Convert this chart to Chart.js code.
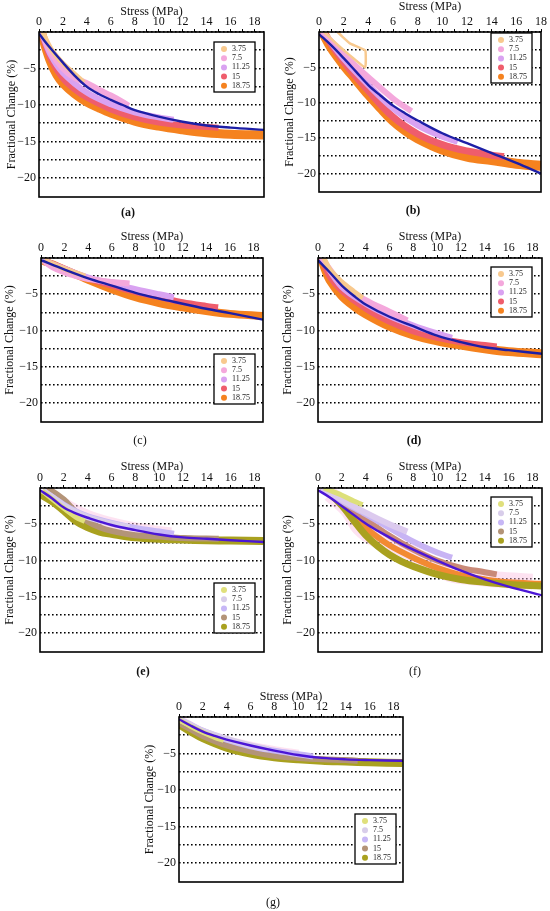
<!DOCTYPE html>
<html>
<head>
<meta charset="utf-8">
<script src="https://cdn.jsdelivr.net/npm/chart.js@4.4.0/dist/chart.umd.min.js"></script>
<style>
    html, body { margin: 0; padding: 0; background: #fff; }
    body { position: relative; width: 550px; height: 911px; overflow: hidden; font-family: 'Liberation Serif', 'Times New Roman', serif; }
    .painel { position: absolute; }
    .rotulo-painel { position: absolute; font-size: 12px; color: #111; transform: translate(-50%, -50%); white-space: nowrap; }
</style>
</head>
<body>
<script>
// ---- dados ----
const rotulosSerie = ['3.75', '7.5', '11.25', '15', '18.75'];
const marcasX = [0, 1, 2, 3, 4, 5, 6, 7, 8, 9, 10, 11, 12, 13, 14, 15, 16, 17, 18];
const marcasY = [-20, -17.5, -15, -12.5, -10, -7.5, -5, -2.5, 0];

// (a)
const aAjuste = [[0, -0.2], [0.5, -1.3], [1, -2.3], [2, -4.2], [3, -6.0], [4, -7.5], [5, -8.5], [6, -9.3], [7, -10.0], [8, -10.7], [10, -11.6], [12, -12.3], [14, -12.8], [16, -13.1], [18.8, -13.4]];
const a375 = [[0.3, 0], [1, -2.3], [2, -4.3], [3, -5.8], [3.75, -6.9]];
const a75 = [[0.2, 0], [1, -2.8], [2, -5.0], [3, -6.3], [4, -7.0], [5, -7.9], [6, -8.7], [7, -9.6], [7.5, -10.1]];
const a1125 = [[0.2, 0], [1, -3.2], [2, -5.6], [4, -8.3], [6, -9.9], [8, -11.0], [10, -11.7], [11.25, -12.0]];
const a15 = [[0.2, 0], [0.5, -1.6], [1, -3.8], [2, -6.4], [3, -7.9], [4, -9.0], [6, -10.6], [8, -11.7], [10, -12.4], [12, -12.8], [14, -13.0], [15, -13.1]];
const a1875 = [[0.2, 0], [0.5, -1.8], [1, -4.2], [1.5, -5.9], [2, -7.0], [3, -8.5], [4, -9.6], [5, -10.4], [6, -11.1], [8, -12.2], [10, -12.9], [12, -13.4], [14, -13.8], [16, -14.0], [18.75, -14.1]];

// (b)
const bAjuste = [[0, -0.3], [1, -1.9], [2, -3.7], [3, -5.6], [4, -7.5], [5, -9.0], [6, -10.4], [7, -11.5], [8, -12.5], [10, -14.3], [12, -15.7], [14, -17.1], [16, -18.5], [18, -20.0]];
const b375 = [[0.4, 0], [1.5, -1.8], [2.5, -3.3], [3.75, -5.0], [3.75, -2.6], [2.5, -1.6], [1.8, -0.5], [1.5, 0]];
const b75 = [[0.3, 0], [2, -3.2], [4, -6.4], [6, -9.4], [7.5, -11.2]];
const b1125 = [[0.3, 0], [2, -3.8], [4, -7.5], [6, -10.8], [8, -13.2], [10, -14.8], [11.25, -15.5]];
const b15 = [[0.3, 0], [2, -4.2], [4, -8.3], [6, -12.0], [8, -14.4], [10, -15.9], [12, -16.8], [14, -17.4], [15, -17.6]];
const b1875 = [[0.3, 0], [1, -2.2], [2, -4.6], [3, -6.7], [4, -8.8], [5, -10.7], [6, -12.5], [7, -13.9], [8, -15.0], [10, -16.6], [12, -17.6], [14, -18.1], [16, -18.6], [18, -18.9], [18.75, -19.0]];

// (c)
const cAjuste = [[0, -0.3], [2, -1.6], [4, -2.8], [6, -3.8], [8, -4.8], [10, -5.6], [12, -6.3], [14, -7.0], [16, -7.6], [18.8, -8.5]];
const c375 = [[0.3, -0.3], [2, -1.5], [3.75, -2.5]];
const c75 = [[0.3, -0.5], [1, -1.3], [2, -2.0], [3, -2.5], [4, -2.9], [6, -3.3], [7.5, -3.5]];
const c1125 = [[0.2, -0.3], [2, -1.5], [4, -2.7], [6, -3.5], [8, -4.3], [10, -5.0], [11.25, -5.4]];
const c15 = [[0.2, -0.3], [2, -1.5], [4, -2.8], [6, -3.8], [8, -4.7], [10, -5.4], [12, -6.1], [14, -6.6], [15, -6.8]];
const c1875 = [[0.2, -0.4], [1, -0.9], [2, -1.6], [4, -3.0], [6, -4.3], [8, -5.4], [10, -6.2], [12, -6.8], [14, -7.3], [16, -7.7], [18.75, -8.0]];

// (d)
const dAjuste = [[0, -0.3], [1, -2.0], [2, -3.8], [3, -5.2], [4, -6.4], [6, -8.1], [8, -9.4], [10, -10.7], [12, -11.6], [14, -12.3], [16, -12.7], [18.8, -13.2]];
const d375 = [[0.5, 0], [1, -1.6], [2, -3.3], [3, -4.6], [3.75, -5.5]];
const d75 = [[0.3, 0], [2, -3.6], [4, -5.8], [6, -7.4], [7.5, -8.6]];
const d1125 = [[0.3, 0], [2, -4.0], [4, -6.3], [6, -8.0], [8, -9.3], [10, -10.4], [11.25, -11.0]];
const d15 = [[0.3, 0], [1, -2.6], [2, -4.5], [4, -7.0], [6, -8.8], [8, -10.1], [10, -11.0], [12, -11.6], [14, -12.0], [15, -12.2]];
const d1875 = [[0.3, 0], [0.6, -1.5], [1, -3.0], [2, -5.2], [3, -6.6], [4, -7.7], [6, -9.4], [8, -10.6], [10, -11.4], [12, -12.0], [14, -12.5], [16, -12.9], [18.75, -13.2]];

// (e)
const eAjuste = [[0, -0.3], [1, -1.4], [2, -2.7], [3, -3.5], [4, -4.1], [6, -5.1], [8, -5.8], [10, -6.4], [12, -6.8], [14, -7.0], [16, -7.2], [18.8, -7.45]];
const e375 = [[0.2, -0.4], [1, -1.5], [2, -2.8], [3, -4.0], [3.75, -4.6]];
const e75 = [[0.2, -0.3], [1, -1.2], [2, -2.4], [3, -3.3], [4, -4.0], [6, -4.9], [7.5, -5.4]];
const e1125 = [[0.2, -0.3], [1, -1.2], [2, -2.3], [3, -3.2], [4, -3.9], [6, -4.8], [8, -5.5], [10, -6.0], [11.25, -6.3]];
const e15 = [[0.5, 0], [1, -0.4], [2, -1.6], [3, -3.3], [4, -4.6], [5, -5.4], [6, -5.9], [8, -6.5], [10, -6.7], [12, -6.9], [15, -7.0]];
const e1875 = [[0, -0.8], [1, -1.8], [2, -3.1], [3, -4.5], [4, -5.4], [5, -6.0], [6, -6.3], [8, -6.8], [10, -7.0], [12, -7.1], [14, -7.2], [16, -7.25], [18.75, -7.3]];
const eNevoa = [[0.5, -0.5], [2, -2.3], [4, -4.0], [6, -5.0], [8, -5.7], [10, -6.2], [11, -6.4]];

// (f)
const fAjuste = [[0, -0.3], [1, -1.3], [2, -2.5], [3, -3.7], [4, -4.9], [5, -5.9], [6, -6.8], [7, -7.7], [8, -8.5], [10, -10.0], [12, -11.4], [14, -12.6], [16, -13.6], [18.8, -14.8]];
const f375 = [[0.5, 0], [2, -1.0], [3, -1.8], [3.75, -2.3]];
const f75 = [[0.3, 0], [2, -1.6], [4, -3.4], [6, -5.0], [7.5, -6.0]];
const f1125 = [[0.3, 0], [2, -1.8], [4, -3.6], [6, -5.5], [8, -7.4], [10, -8.9], [11.25, -9.6]];
const f15 = [[0.3, 0], [2, -1.8], [4, -4.3], [6, -6.6], [8, -8.5], [10, -10.0], [12, -11.0], [14, -11.6], [15, -11.9]];
const f1875 = [[0.3, 0], [1, -0.8], [2, -2.4], [3, -4.5], [4, -6.5], [5, -8.0], [6, -9.2], [7, -10.1], [8, -10.8], [10, -11.9], [12, -12.6], [14, -13.0], [16, -13.3], [18.75, -13.5]];
const f1875Laranja = [[0.3, 0], [1, -0.7], [2, -2.1], [3, -3.9], [4, -5.5], [6, -7.9], [8, -9.6], [10, -11.0], [12, -12.0], [14, -12.6], [16, -13.0], [18.75, -13.2]];
const fNevoa = [[1, -0.8], [2.5, -3.0], [3.5, -5.5], [5, -7.2], [7, -8.3], [9, -10.0], [11, -11.8], [13, -12.3], [15, -12.6], [18, -12.9]];

// (g)
const gAjuste = [[0, -0.3], [1, -1.2], [2, -2.0], [3, -2.6], [4, -3.1], [6, -3.9], [8, -4.6], [10, -5.2], [12, -5.6], [14, -5.8], [16, -5.9], [18.8, -6.0]];
const g375 = [[0, -0.4], [1, -1.3], [2, -2.1], [3, -2.8], [3.75, -3.2]];
const g75 = [[0, -0.3], [1, -1.1], [2, -1.9], [4, -3.0], [6, -3.9], [7.5, -4.4]];
const g1125 = [[0, -0.3], [1, -1.1], [2, -1.9], [4, -3.1], [6, -4.0], [8, -4.6], [10, -5.1], [11.25, -5.4]];
const g15 = [[0, -0.8], [1, -1.7], [2, -2.6], [4, -3.9], [6, -4.7], [8, -5.3], [10, -5.6], [12, -5.8], [14, -5.9], [15, -6.0]];
const g1875 = [[0, -1.0], [1, -2.0], [2, -2.9], [4, -4.2], [6, -5.0], [8, -5.5], [10, -5.8], [12, -6.0], [14, -6.1], [16, -6.2], [18.75, -6.3]];
const gNevoa = [[0, -0.6], [2, -2.3], [4, -3.4], [6, -4.2], [8, -4.8], [10, -5.3]];

// ---- estilos ----
const fonte = "'Liberation Serif', 'Times New Roman', serif";
const corQuente = ['#f8c98e', '#f4a8dc', '#d9a2f1', '#ef5d6c', '#f5821f'];
const corFria = ['#e0e07c', '#d8cdea', '#c7b7f6', '#b39478', '#a9a11f'];
const corAjusteQuente = '#1d1fa6';
const corAjusteFria = '#4b16d6';
const nevoa = 'rgba(250, 190, 225, 0.45)';

const paineis = [
    { letra: 'a', pos: [0, 0, 275, 230], eixoY: 39, eixoX: 32, padR: 11, padB: 33, titX: 4.5, titY: 4.5, xMax: 18.8,
      leg: ['top', 10, 9], cap: [128, 212, 'bold'], cores: corQuente, corAjuste: corAjusteQuente, larguras: [5, 6, 6, 6, 9],
      series: [a375, a75, a1125, a15, a1875], ajuste: aAjuste, extras: [] },
    { letra: 'b', pos: [275, 0, 275, 230], eixoY: 44, eixoX: 32, padR: 9, padB: 38, titX: 0, titY: 7.5, xMax: 18,
      leg: ['top', 1, 9], cap: [413, 210, 'bold'], cores: corQuente, corAjuste: corAjusteQuente, larguras: [2.5, 6, 6, 7, 10],
      series: [b375, b75, b1125, b15, b1875], ajuste: bAjuste, extras: [], tensao: 0.1 },
    { letra: 'c', pos: [0, 230, 275, 230], eixoY: 41, eixoX: 28, padR: 12, padB: 38, titX: 0, titY: 2.8, xMax: 18.8,
      leg: ['bottom', 18, 8], cap: [140, 440, 'normal'], cores: corQuente, corAjuste: corAjusteQuente, larguras: [5, 6, 6, 6, 8],
      series: [c375, c75, c1125, c15, c1875], ajuste: cAjuste, extras: [] },
    { letra: 'd', pos: [275, 230, 275, 230], eixoY: 43, eixoX: 28, padR: 8, padB: 38, titX: 0, titY: 5.8, xMax: 18.8,
      leg: ['top', 9, 10], cap: [414, 440, 'bold'], cores: corQuente, corAjuste: corAjusteQuente, larguras: [5, 6, 6, 6, 9],
      series: [d375, d75, d1125, d15, d1875], ajuste: dAjuste, extras: [] },
    { letra: 'e', pos: [0, 460, 275, 230], eixoY: 40, eixoX: 28, padR: 11, padB: 38, titX: 0, titY: 2.8, xMax: 18.8,
      leg: ['bottom', 19, 9], cap: [143, 671, 'bold'], cores: corFria, corAjuste: corAjusteFria, larguras: [5, 6, 6, 6, 8],
      series: [e375, e75, e1125, e15, e1875], ajuste: eAjuste,
      extras: [{ pontos: eNevoa, cor: nevoa, larg: 14 }] },
    { letra: 'f', pos: [275, 460, 275, 230], eixoY: 43, eixoX: 28, padR: 8, padB: 38, titX: 0, titY: 6, xMax: 18.8,
      leg: ['top', 9, 10], cap: [415, 671, 'normal'], cores: corFria, corAjuste: corAjusteFria, larguras: [5, 6, 6, 6, 7],
      coresLinha: ['#dde07a', '#dccaee', '#c8b4f4', '#c98a78', '#a9a11f'],
      series: [f375, f75, f1125, f15, f1875], ajuste: fAjuste,
      extras: [{ pontos: f1875Laranja, cor: '#f28a32', larg: 6 }, { pontos: fNevoa, cor: nevoa, larg: 16 }] },
    { letra: 'g', pos: [140, 685, 275, 226], eixoY: 39, eixoX: 32, padR: 12, padB: 29, titX: 5, titY: 3, xMax: 18.8,
      leg: ['bottom', 18, 7], cap: [273, 902, 'normal'], cores: corFria, corAjuste: corAjusteFria, larguras: [5, 6, 6, 6, 8],
      series: [g375, g75, g1125, g15, g1875], ajuste: gAjuste,
      extras: [{ pontos: gNevoa, cor: nevoa, larg: 12 }] }
];

// moldura preta em volta da area do grafico
const moldura = {
    id: 'moldura',
    afterDatasetsDraw(chart) {
        const { ctx, chartArea: ca } = chart;
        ctx.save();
        ctx.lineWidth = 1.6;
        ctx.strokeStyle = '#000';
        ctx.strokeRect(ca.left, ca.top, ca.right - ca.left, ca.bottom - ca.top);
        ctx.restore();
    }
};

// legenda com caixa, desenhada dentro da area
const legendaCaixa = {
    id: 'legendaCaixa',
    afterDraw(chart, args, opts) {
        const { ctx, chartArea: ca } = chart;
        const larg = 41, alt = 50;
        const x0 = ca.right - opts.dir - larg;
        const y0 = opts.lado === 'top' ? ca.top + opts.off : ca.bottom - opts.off - alt;
        ctx.save();
        ctx.fillStyle = '#fff';
        ctx.fillRect(x0, y0, larg, alt);
        ctx.lineWidth = 1.3;
        ctx.strokeStyle = '#000';
        ctx.strokeRect(x0, y0, larg, alt);
        ctx.font = '8px ' + fonte;
        ctx.textBaseline = 'middle';
        opts.rotulos.forEach((r, i) => {
            const y = y0 + 7 + i * 9.2;
            ctx.fillStyle = opts.cores[i];
            ctx.beginPath();
            ctx.arc(x0 + 10, y, 3, 0, Math.PI * 2);
            ctx.fill();
            ctx.fillStyle = '#222';
            ctx.fillText(r, x0 + 18, y);
        });
        ctx.restore();
    }
};

const linha = (pontos, cor, largura, tensao = 0.35) => ({
    data: pontos.map(p => ({ x: p[0], y: p[1] })),
    borderColor: cor,
    backgroundColor: cor,
    borderWidth: largura,
    showLine: true,
    pointRadius: 0,
    tension: tensao,
    fill: false,
    borderCapStyle: 'butt',
    borderJoinStyle: 'round'
});

paineis.forEach(p => {
    const div = document.createElement('div');
    div.className = 'painel';
    div.style.cssText = `left:${p.pos[0]}px;top:${p.pos[1]}px;width:${p.pos[2]}px;height:${p.pos[3]}px`;
    const canvas = document.createElement('canvas');
    div.appendChild(canvas);
    document.body.appendChild(div);

    const cap = document.createElement('div');
    cap.className = 'rotulo-painel';
    cap.style.left = p.cap[0] + 'px';
    cap.style.top = p.cap[1] + 'px';
    cap.style.fontWeight = p.cap[2];
    cap.textContent = `(${p.letra})`;
    document.body.appendChild(cap);

    const coresLinha = p.coresLinha || p.cores;
    const datasets = [linha(p.ajuste, p.corAjuste, 2.4)];
    p.series.forEach((s, i) => datasets.push(linha(s, coresLinha[i], p.larguras[i], i === 0 && p.tensao !== undefined ? p.tensao : 0.35)));
    p.extras.forEach(e => datasets.push(linha(e.pontos, e.cor, e.larg)));

    new Chart(canvas.getContext('2d'), {
        type: 'scatter',
        data: { datasets },
        plugins: [moldura, legendaCaixa],
        options: {
            responsive: true,
            maintainAspectRatio: false,
            animation: false,
            layout: { padding: { left: 0, top: 0, right: p.padR, bottom: p.padB } },
            plugins: {
                legend: { display: false },
                tooltip: { enabled: false },
                legendaCaixa: { lado: p.leg[0], off: p.leg[1], dir: p.leg[2], cores: p.cores, rotulos: rotulosSerie }
            },
            scales: {
                x: {
                    type: 'linear',
                    position: 'top',
                    min: 0,
                    max: p.xMax,
                    afterFit: s => { s.height = p.eixoX; },
                    afterBuildTicks: s => { s.ticks = marcasX.map(v => ({ value: v })); },
                    ticks: {
                        autoSkip: false,
                        maxRotation: 0,
                        padding: 0,
                        color: '#111',
                        font: { family: fonte, size: 12 },
                        callback: v => (v % 2 === 0 ? String(v) : '')
                    },
                    grid: { display: true, drawOnChartArea: false, drawTicks: true, tickLength: 3, color: '#000', lineWidth: 1 },
                    border: { display: false },
                    title: { display: true, text: 'Stress (MPa)', color: '#111', font: { family: fonte, size: 12 }, padding: { top: p.titX, bottom: 0 } }
                },
                y: {
                    type: 'linear',
                    min: -22.6,
                    max: 0,
                    afterFit: s => { s.width = p.eixoY; },
                    afterBuildTicks: s => { s.ticks = marcasY.map(v => ({ value: v })); },
                    ticks: {
                        padding: 3,
                        color: '#111',
                        font: { family: fonte, size: 12 },
                        callback: v => (v % 5 === 0 && v !== 0 ? '\u2212' + Math.abs(v) : '')
                    },
                    grid: { color: '#000', lineWidth: 1.6, drawTicks: false },
                    border: { display: false, dash: [1.6, 2.4] },
                    title: { display: true, text: 'Fractional Change (%)', color: '#111', font: { family: fonte, size: 12 }, padding: { top: p.titY, bottom: 0 } }
                }
            }
        }
    });
});
</script>
</body>
</html>
